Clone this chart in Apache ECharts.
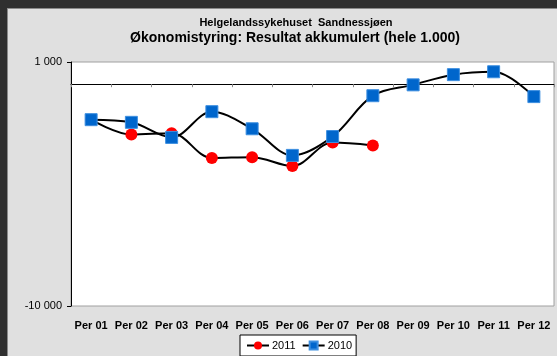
<!DOCTYPE html>
<html>
<head>
<meta charset="utf-8">
<script src="https://cdn.jsdelivr.net/npm/echarts@6/dist/echarts.min.js"></script>
<style>
  html, body { margin: 0; padding: 0; background: #e0e0e0; }
  #chart { width: 557px; height: 356px; }
</style>
</head>
<body>
<div id="chart"></div>
<script>
// Periods and accumulated result (in thousands NOK)
const periods = ['Per 01', 'Per 02', 'Per 03', 'Per 04', 'Per 05', 'Per 06',
                 'Per 07', 'Per 08', 'Per 09', 'Per 10', 'Per 11', 'Per 12'];
const result2011 = [-1600, -2270, -2210, -3330, -3290, -3690, -2630, -2760];
const result2010 = [-1600, -1720, -2400, -1240, -2010, -3210, -2360, -520, -30, 430, 560, -560];
const yTickValues = [-10000, 1000];

const fmt = v => {
  const s = String(Math.abs(v)).replace(/\B(?=(\d{3})+(?!\d))/g, ' ');
  return (v < 0 ? '-' : '') + s;
};

const chart = echarts.init(document.getElementById('chart'));
const font = 'Liberation Sans, Arial, sans-serif';

chart.setOption({
  backgroundColor: '#e0e0e0',
  animation: false,
  textStyle: { fontFamily: font },
  graphic: [
    { type: 'rect', shape: { x: 0, y: 0, width: 557, height: 8 }, style: { fill: '#2f2f2f' }, z: 10 },
    { type: 'rect', shape: { x: 0, y: 8, width: 557, height: 1 }, style: { fill: '#8a8a8a' }, z: 10 },
    { type: 'rect', shape: { x: 0, y: 0, width: 7, height: 356 }, style: { fill: '#2f2f2f' }, z: 11 },
    { type: 'rect', shape: { x: 7, y: 9, width: 1, height: 347 }, style: { fill: '#8a8a8a' }, z: 11 },
    {
      type: 'text', x: 296, y: 23,
      style: { text: 'Helgelandssykehuset  Sandnessjøen', fontFamily: font, fontSize: 11,
               fontWeight: 'bold', fill: '#000', textAlign: 'center', textVerticalAlign: 'middle' }
    },
    {
      type: 'text', x: 295, y: 38,
      style: { text: 'Økonomistyring: Resultat akkumulert (hele 1.000)', fontFamily: font, fontSize: 14,
               fontWeight: 'bold', fill: '#000', textAlign: 'center', textVerticalAlign: 'middle' }
    }
  ],
  grid: {
    left: 71, right: 3, top: 62, bottom: 50,
    show: true, backgroundColor: '#ffffff', borderColor: '#a0a0a0', borderWidth: 1
  },
  legend: {
    bottom: 0, left: 240,
    data: ['2011', '2010'],
    backgroundColor: '#ffffff',
    borderColor: '#000', borderWidth: 1, borderRadius: 0,
    padding: [5, 4, 5, 6],
    itemGap: 6, itemWidth: 22, itemHeight: 10,
    textStyle: { fontFamily: font, fontSize: 11, color: '#000', padding: [0, 0, 0, -2] }
  },
  xAxis: [
    {
      type: 'category', data: periods, position: 'bottom',
      axisLine: { show: false, onZero: false },
      axisTick: { show: false },
      axisLabel: { interval: 0, hideOverlap: false, fontFamily: font, fontSize: 11,
                   fontWeight: 'bold', color: '#000', margin: 14 },
      splitLine: { show: false }
    },
    {
      type: 'category', data: periods, position: 'bottom',
      axisLine: { show: true, onZero: true, lineStyle: { color: '#000', width: 1 } },
      axisTick: { show: true, interval: 0, length: 3, lineStyle: { color: '#888' } },
      axisLabel: { show: false },
      splitLine: { show: false }
    }
  ],
  yAxis: {
    type: 'value', min: -10000, max: 1000,
    axisLine: { show: true, lineStyle: { color: '#000', width: 1 } },
    axisTick: { show: true, length: 4, customValues: yTickValues, lineStyle: { color: '#000' } },
    axisLabel: { customValues: yTickValues, formatter: fmt, fontFamily: font, fontSize: 11, color: '#000', margin: 9 },
    splitLine: { show: false }
  },
  series: [
    {
      name: '2011', type: 'line', data: result2011, smooth: 0.35,
      symbol: 'circle', symbolSize: 12,
      lineStyle: { color: '#000', width: 2 },
      itemStyle: { color: '#ff0000' }
    },
    {
      name: '2010', type: 'line', data: result2010, smooth: 0.35,
      symbol: 'rect', symbolSize: 12,
      lineStyle: { color: '#000', width: 2 },
      itemStyle: { color: '#0066cc', borderColor: '#3d8fe0', borderWidth: 1 }
    }
  ]
});
</script>
</body>
</html>
